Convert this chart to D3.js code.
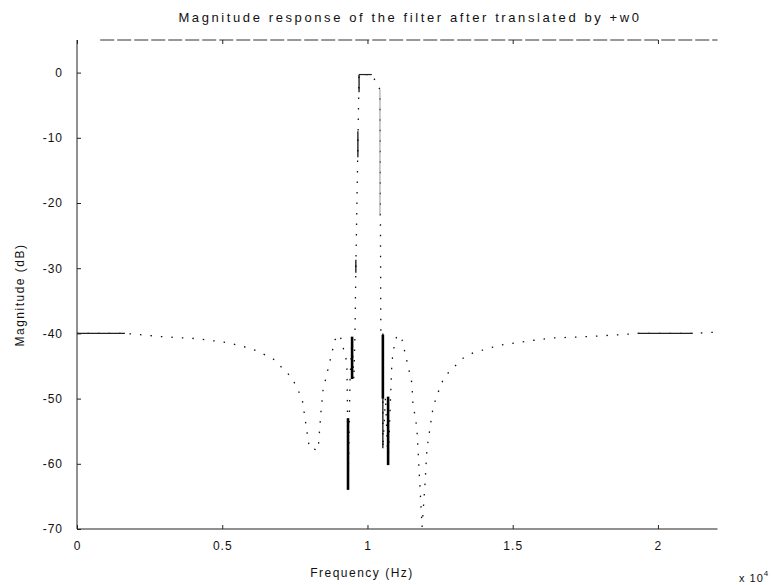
<!DOCTYPE html>
<html>
<head>
<meta charset="utf-8">
<script src="https://cdn.jsdelivr.net/npm/d3@7"></script>
<style>
  body { margin: 0; background: #fff; }
  svg text { font-family: "Liberation Sans", Arial, sans-serif; fill: #111; }
</style>
</head>
<body>
<svg id="chart" width="771" height="585"></svg>
<script>
// frequency in units of 1e4 Hz, magnitude in dB
const responseFreq = [0, 0.165, 0.293, 0.41, 0.516, 0.589, 0.62, 0.675, 0.74, 0.775, 0.8, 0.83, 0.84, 0.847, 0.888, 0.905,
    0.929, 0.931, 0.933, 0.94, 0.947, 0.953, 0.957, 0.96, 0.967, 0.971, 1.015, 1.043, 1.046, 1.053, 1.053, 1.062, 1.071,
    1.084, 1.095, 1.105, 1.119, 1.153, 1.156, 1.17, 1.188, 1.198, 1.205, 1.226, 1.246, 1.263, 1.281, 1.329, 1.363,
    1.456, 1.566, 1.639, 1.756, 1.869, 1.93, 2.12, 2.205];
const responseDb = [-40, -40, -40.5, -40.8, -41.4, -42.2, -42.7, -43.9, -46.8, -50, -57.6, -57.9, -52, -48.7, -41, -40.2,
    -44.4, -50.8, -64, -47, -40.5, -47.1, -40, -30, -11, -0.3, -0.3, -2.6, -40, -40.2, -57.6, -49.7, -60.2,
    -44.4, -41, -40.2, -41, -47.6, -50.5, -54.5, -69.7, -63.1, -57.6, -51.3, -48.7, -46.8, -45.9, -43.8, -43,
    -41.8, -41.1, -40.7, -40.5, -40.2, -40, -40, -39.8];

// pieces of the trace that survived the scan as solid strokes
const solidRunFrom = [0, 1.93, 0.971];
const solidRunTo = [0.165, 2.12, 1.015];
const solidRunDb = [-40, -40, -0.3];

const barFreq = [0.947, 1.053, 1.071, 0.933, 1.053, 0.967, 0.96, 0.971];
const barTop = [-40.5, -40.2, -49.7, -53, -40, -9, -28.7, -0.3];
const barBottom = [-47, -50, -60.2, -64, -57.6, -13, -30.7, -3];
const barHeavy = [true, true, true, true, false, false, false, false];

const xTicks = [0, 0.5, 1, 1.5, 2];
const xTickLabels = ["0", "0.5", "1", "1.5", "2"];
const yTicks = [0, -10, -20, -30, -40, -50, -60, -70];

const svg = d3.select('#chart');

const x = d3.scaleLinear().domain([0, 2.205]).range([77, 717.5]);
const y = d3.scaleLinear().domain([-70, 5]).range([529, 40]);

// frame
svg.append('line')
    .attr('x1', x(0)).attr('x2', x(0))
    .attr('y1', y(5)).attr('y2', y(-70))
    .style('stroke', '#222').style('stroke-width', 1);
svg.append('line')
    .attr('x1', x(0)).attr('x2', x(2.205))
    .attr('y1', y(-70)).attr('y2', y(-70))
    .style('stroke', '#222').style('stroke-width', 1);
svg.append('line')
    .attr('x1', x(0.08)).attr('x2', x(2.205))
    .attr('y1', y(5)).attr('y2', y(5))
    .style('stroke', '#333').style('stroke-width', 1)
    .style('stroke-dasharray', '14 3');

// axes, ticks pointing inwards like matlab
svg.append('g')
    .attr('transform', `translate(${x(0)},0)`)
    .call(d3.axisLeft(y).tickValues(yTicks).tickSize(-4).tickPadding(14).tickFormat(d => String(d)));
svg.append('g')
    .attr('transform', `translate(0,${y(-70)})`)
    .call(d3.axisBottom(x).tickValues(xTicks).tickSize(-4).tickPadding(12).tickFormat((d, i) => xTickLabels[i]));
svg.append('g')
    .attr('transform', `translate(0,${y(5)})`)
    .call(d3.axisTop(x).tickValues(xTicks).tickSize(-4).tickFormat(''));

svg.selectAll('.domain').remove();
svg.selectAll('.tick line').style('stroke', '#222');
svg.selectAll('.tick text')
    .style('font-size', '12px')
    .style('letter-spacing', '1px')
    .style('fill', '#111');

// response trace, mostly broken into dots in the scan
const line = d3.line()
    .x((d, i) => x(responseFreq[i]))
    .y(d => y(d));

svg.append('path')
    .datum(responseDb)
    .attr('d', line)
    .style('fill', 'none')
    .style('stroke', '#111')
    .style('stroke-width', 1.3)
    .style('stroke-dasharray', '1.5 9');

svg.selectAll('line.run')
    .data(solidRunDb)
    .enter()
    .append('line')
    .attr('class', 'run')
    .attr('x1', (d, i) => x(solidRunFrom[i]))
    .attr('x2', (d, i) => x(solidRunTo[i]))
    .attr('y1', d => y(d))
    .attr('y2', d => y(d))
    .style('stroke', '#222')
    .style('stroke-width', 1.2);

svg.selectAll('line.bar')
    .data(barFreq)
    .enter()
    .append('line')
    .attr('class', 'bar')
    .attr('x1', d => x(d))
    .attr('x2', d => x(d))
    .attr('y1', (d, i) => y(barTop[i]))
    .attr('y2', (d, i) => y(barBottom[i]))
    .style('stroke', '#000')
    .style('stroke-width', (d, i) => barHeavy[i] ? 2.6 : 1.2);

// faint right edge of the passband
svg.append('line')
    .attr('x1', x(1.043)).attr('x2', x(1.043))
    .attr('y1', y(-2.6)).attr('y2', y(-22))
    .style('stroke', '#999').style('stroke-width', 1);

// texts
svg.append('text')
    .attr('x', 410)
    .attr('y', 22)
    .attr('text-anchor', 'middle')
    .style('font-size', '13px')
    .style('letter-spacing', '2.6px')
    .text('Magnitude response of the filter after translated by +w0');

svg.append('text')
    .attr('x', 362)
    .attr('y', 577)
    .attr('text-anchor', 'middle')
    .style('font-size', '12px')
    .style('letter-spacing', '1.5px')
    .text('Frequency (Hz)');

svg.append('text')
    .attr('transform', 'translate(24,295) rotate(-90)')
    .attr('text-anchor', 'middle')
    .style('font-size', '12px')
    .style('letter-spacing', '1.5px')
    .text('Magnitude (dB)');

const expo = svg.append('text')
    .attr('x', 739)
    .attr('y', 582)
    .style('font-size', '11px')
    .style('letter-spacing', '1px');
expo.append('tspan').text('x 10');
expo.append('tspan').attr('dy', -6).style('font-size', '8px').text('4');
</script>
</body>
</html>
